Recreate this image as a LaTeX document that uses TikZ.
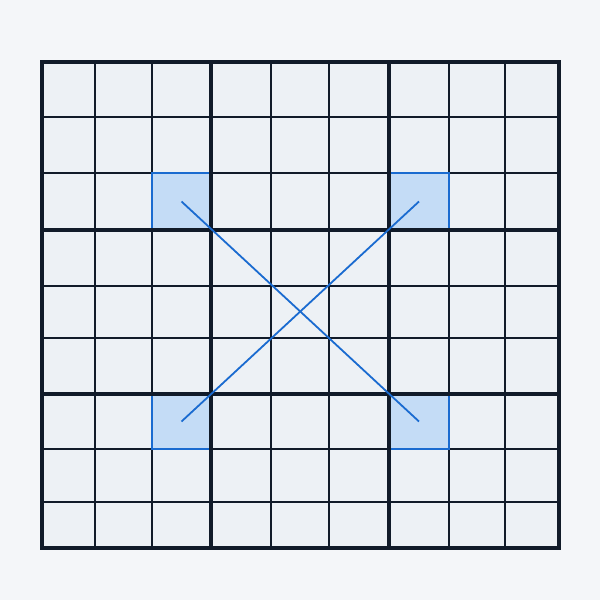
\documentclass[tikz,border=0pt]{standalone}
\begin{document}
\begin{tikzpicture}[x=1pt,y=-1pt,
  thinline/.style={draw=gridc,line width=1.2pt},
  thickline/.style={draw=gridc,line width=4.2pt},
  hicell/.style={fill=hifill,draw=hiedge,line width=1.5pt},
  diag/.style={draw=hiedge,line width=1.8pt}]
\definecolor{bgc}{HTML}{F4F6F9}
\definecolor{cellc}{HTML}{EDF1F5}
\definecolor{gridc}{HTML}{111B29}
\definecolor{hifill}{HTML}{C4DCF6}
\definecolor{hiedge}{HTML}{1A6BD0}
\useasboundingbox (0,0) rectangle (600,600);
\fill[bgc] (0,0) rectangle (600,600);
\fill[cellc] (42,62) rectangle (559,548);
% highlighted cells
\fill[hifill] (152,173) rectangle (211,230);
\fill[hifill] (389,173) rectangle (449,230);
\fill[hifill] (152,394) rectangle (211,449);
\fill[hifill] (389,394) rectangle (449,449);
% thin lines
\foreach \x in {95,152,271,329,449,505} \draw[thinline] (\x,62) -- (\x,548);
\foreach \y in {117,173,286,338,449,502} \draw[thinline] (42,\y) -- (559,\y);
% highlighted borders
\draw[hicell,fill=none] (152,173) rectangle (211,230);
\draw[hicell,fill=none] (389,173) rectangle (449,230);
\draw[hicell,fill=none] (152,394) rectangle (211,449);
\draw[hicell,fill=none] (389,394) rectangle (449,449);
% thick lines
\foreach \x in {211,389} \draw[thickline] (\x,62) -- (\x,548);
\foreach \y in {230,394} \draw[thickline] (42,\y) -- (559,\y);
\draw[thickline,line width=4.8pt] (42,62) rectangle (559,548);
% diagonals
\coordinate (tl) at (181.5,201.5);
\coordinate (tr) at (419,201.5);
\coordinate (bl) at (181.5,421.5);
\coordinate (br) at (419,421.5);
\draw[diag] (tl) -- (br);
\draw[diag] (bl) -- (tr);
\end{tikzpicture}
\end{document}
